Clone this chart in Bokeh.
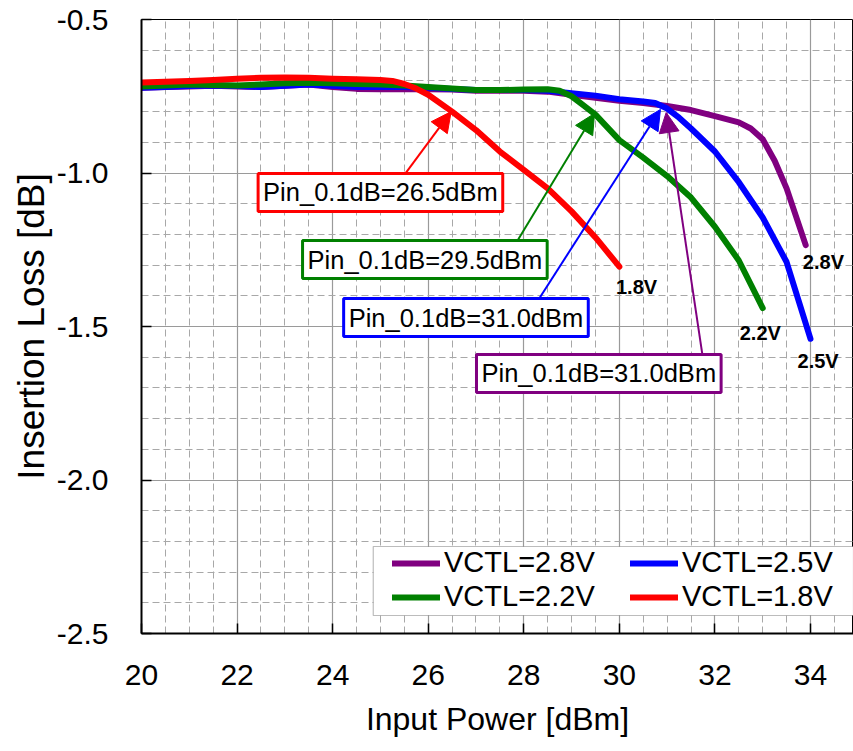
from bokeh.plotting import figure
from bokeh.models import (Range1d, Legend, LegendItem, Label, Arrow, NormalHead,
                          SingleIntervalTicker, BoxAnnotation, NumeralTickFormatter)
from bokeh.embed import file_html
from bokeh.resources import INLINE

# ---------------- data ----------------
x_28 = [20, 20.5, 21, 21.5, 22, 22.5, 23, 23.5, 24, 24.5, 25, 25.5, 26, 26.5, 27, 27.5,
        28, 28.5, 29, 29.5, 30, 30.5, 31, 31.5, 32, 32.5, 32.75, 33, 33.25, 33.5, 33.9]
il_28 = [-0.722, -0.720, -0.718, -0.716, -0.718, -0.720, -0.716, -0.712, -0.720, -0.726,
         -0.727, -0.727, -0.727, -0.728, -0.732, -0.732, -0.732, -0.735, -0.745, -0.755,
         -0.765, -0.772, -0.782, -0.795, -0.815, -0.835, -0.855, -0.89, -0.96, -1.05, -1.235]

x_25 = [20, 20.5, 21, 21.5, 22, 22.5, 23, 23.5, 24, 24.5, 25, 25.5, 26, 26.5, 27, 27.5,
        28, 28.5, 29, 29.5, 30, 30.5, 30.75, 31, 31.25, 31.5, 32, 32.5, 33, 33.5, 34]
il_25 = [-0.722, -0.720, -0.717, -0.715, -0.717, -0.720, -0.716, -0.712, -0.716, -0.720,
         -0.720, -0.720, -0.722, -0.726, -0.730, -0.730, -0.730, -0.732, -0.740, -0.748,
         -0.760, -0.767, -0.772, -0.790, -0.820, -0.855, -0.93, -1.03, -1.145, -1.29, -1.54]

x_22 = [20, 20.5, 21, 21.5, 22, 22.5, 23, 23.5, 24, 24.5, 25, 25.5, 26, 26.5, 27, 27.5,
        28, 28.5, 28.75, 29, 29.25, 29.5, 30, 30.5, 31, 31.5, 32, 32.5, 33]
il_22 = [-0.718, -0.715, -0.712, -0.713, -0.715, -0.712, -0.708, -0.706, -0.708, -0.710,
         -0.712, -0.715, -0.720, -0.725, -0.730, -0.730, -0.728, -0.727, -0.732, -0.75,
         -0.78, -0.81, -0.893, -0.95, -1.01, -1.08, -1.175, -1.285, -1.44]

x_18 = [20, 20.5, 21, 21.5, 22, 22.5, 23, 23.5, 24, 24.5, 25, 25.25, 25.5, 25.75, 26,
        26.5, 27, 27.5, 28, 28.5, 29, 29.5, 30]
il_18 = [-0.705, -0.703, -0.700, -0.697, -0.693, -0.690, -0.689, -0.690, -0.693, -0.695,
         -0.697, -0.700, -0.710, -0.725, -0.745, -0.80, -0.86, -0.93, -0.99, -1.05,
         -1.125, -1.21, -1.305]

series_names = ["VCTL=2.8V", "VCTL=2.5V", "VCTL=2.2V", "VCTL=1.8V"]
series_colors = ["#800080", "#0000ff", "#008000", "#ff0000"]
end_labels = ["2.8V", "2.5V", "2.2V", "1.8V"]
pin_texts = ["Pin_0.1dB=31.0dBm", "Pin_0.1dB=31.0dBm", "Pin_0.1dB=29.5dBm", "Pin_0.1dB=26.5dBm"]
x_ticks_interval = 2
y_ticks_interval = 0.5

FONT = "Liberation Sans"

p = figure(width=853, height=751, output_backend="svg", toolbar_location=None,
           x_range=Range1d(20, 34.9), y_range=Range1d(-2.5, -0.5),
           min_border_left=141, min_border_right=0, min_border_top=19, min_border_bottom=118)
p.background_fill_color = "white"
p.border_fill_color = "white"
p.outline_line_color = "black"
p.outline_line_width = 1

p.xaxis.ticker = SingleIntervalTicker(interval=x_ticks_interval, num_minor_ticks=4)
p.yaxis.ticker = SingleIntervalTicker(interval=y_ticks_interval, num_minor_ticks=5)
p.xgrid.ticker = p.xaxis.ticker
p.ygrid.ticker = p.yaxis.ticker
p.yaxis.formatter = NumeralTickFormatter(format="0.0")

for g in (p.xgrid, p.ygrid):
    g.grid_line_color = "#9a9a9a"
    g.grid_line_width = 1.2
    g.minor_grid_line_color = "#a8a8a8"
    g.minor_grid_line_width = 1
    g.minor_grid_line_dash = "7 4"

for ax in (p.xaxis, p.yaxis):
    ax.axis_line_color = "black"
    ax.axis_line_width = 2
    ax.major_tick_in = 10
    ax.major_tick_out = 0
    ax.major_tick_line_color = "black"
    ax.major_tick_line_width = 1.5
    ax.minor_tick_in = 0
    ax.minor_tick_out = 0
    ax.major_label_text_font = FONT
    ax.major_label_text_font_size = "30px"
    ax.major_label_text_color = "black"
    ax.axis_label_text_font = FONT
    ax.axis_label_text_font_style = "normal"
    ax.axis_label_text_color = "black"

p.xaxis.major_label_standoff = 31
p.yaxis.major_label_standoff = 33
p.xaxis.axis_label = "Input Power [dBm]"
p.xaxis.axis_label_text_font_size = "32px"
p.xaxis.axis_label_standoff = 13
p.yaxis.axis_label = "Insertion Loss [dB]"
p.yaxis.axis_label_text_font_size = "37px"
p.yaxis.axis_label_standoff = 2

# ---------------- curves ----------------
xs = [x_28, x_25, x_22, x_18]
ys = [il_28, il_25, il_22, il_18]
rends = []
for xv, yv, c in zip(xs, ys, series_colors):
    r = p.line(xv, yv, line_color=c, line_width=6, line_cap="round", line_join="round")
    rends.append(r)

# ---------------- legend ----------------
p.add_layout(BoxAnnotation(left=24.85, right=34.9, top=-2.2166, bottom=-2.4414,
                           fill_color="white", fill_alpha=1.0, line_color="#222222",
                           line_width=1.2))
leg_left = Legend(items=[LegendItem(label=series_names[0], renderers=[rends[0]]),
                         LegendItem(label=series_names[2], renderers=[rends[2]])],
                  location=(251, 20))
leg_right = Legend(items=[LegendItem(label=series_names[1], renderers=[rends[1]]),
                          LegendItem(label=series_names[3], renderers=[rends[3]])],
                   location=(489, 20))
for lg in (leg_left, leg_right):
    lg.border_line_color = None
    lg.background_fill_alpha = 0
    lg.padding = 0
    lg.margin = 0
    lg.spacing = 1
    lg.glyph_width = 48
    lg.glyph_height = 28
    lg.label_standoff = 4
    lg.label_text_font = FONT
    lg.label_text_font_size = "29px"
    lg.label_text_color = "black"
    p.add_layout(lg)

# ---------------- annotations ----------------
arrows = [
    (31.74, -1.594, 30.98, -0.803, series_colors[0]),
    (28.31, -1.412, 30.86, -0.793, series_colors[1]),
    (27.87, -1.220, 29.48, -0.806, series_colors[2]),
    (25.52, -1.002, 26.48, -0.800, series_colors[3]),
]
for xs0, ys0, xe, ye, c in arrows:
    p.add_layout(Arrow(x_start=xs0, y_start=ys0, x_end=xe, y_end=ye,
                       line_color=c, line_width=2,
                       end=NormalHead(size=20, fill_color=c, line_color=c, line_width=1)))

boxes = [(29.57, -1.653), (26.79, -1.4707), (25.93, -1.2818), (25.0, -1.0635)]
for (bx, by), t, c in zip(boxes, pin_texts, series_colors):
    p.add_layout(Label(x=bx, y=by, text=t, text_align="center", text_baseline="middle",
                       text_font=FONT, text_font_size="25.5px", text_color="black",
                       border_line_color=c, border_line_width=3,
                       background_fill_color="white", background_fill_alpha=1.0,
                       padding=5))

end_pos = [(34.27, -1.29), (34.16, -1.614), (32.95, -1.52), (30.36, -1.37)]
for (lx, ly), t in zip(end_pos, end_labels):
    p.add_layout(Label(x=lx, y=ly, text=t, text_align="center", text_baseline="middle",
                       text_font=FONT, text_font_size="20px", text_font_style="bold",
                       text_color="black"))

open("out.html", "w").write(file_html(p, INLINE))
